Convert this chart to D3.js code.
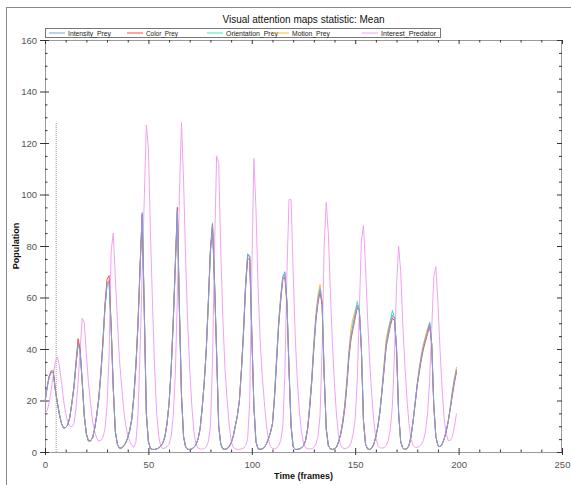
<!DOCTYPE html>
<html><head><meta charset="utf-8">
<script src="https://cdn.jsdelivr.net/npm/d3@7"></script>
<style>
body{margin:0;background:#fff}
svg{display:block}
text{font-family:"Liberation Sans",Arial,sans-serif}
</style>
</head><body>
<svg id="chart" width="571" height="485"></svg>
<script>
// ---------- DATA ----------
const title = "Visual attention maps statistic: Mean";
const xLabel = "Time (frames)";
const yLabel = "Population";
const seriesNames = ["Intensity_Prey","Color_Prey","Orientation_Prey","Motion_Prey","Interest_Predator"];
const seriesColors = ["#7f9ff0","#ff4a4a","#3ee8a8","#ffb83a","#f2a2f2"];
const xMajorTicks = [0,50,100,150,200,250];
const xMinorTicks = [10,20,30,40,60,70,80,90,110,120,130,140,160,170,180,190,210,220,230,240];
const yMajorTicks = [0,20,40,60,80,100,120,140,160];
const yMinorTicks = [5,10,15,25,30,35,45,50,55,65,70,75,85,90,95,105,110,115,125,130,135,145,150,155];
const markerFrame = 5.4;     // dotted vertical marker
const markerTop = 128;

const intensityPrey = [
19.5,25,29,31,30.8,24,19,14.5,11,9.3, 9.5,10.5,13.5,19,25,34,42,39,27,14,
7,4.3,4.3,5.5,9,14,20.5,30,42,56, 65,66,48,25,8,3,1.5,1.5,2.3,3.5,
5.5,8.5,13,22,34,50,72,93,55,15, 4,1.3,1,1,1.2,1.6,2.3,3.5,6,11,
19,32,50,72,94,55,22,6,2,1, 1,1.2,1.8,2.8,5,9,17,27,40,58,
78,88,65,38,10,3,1.2,1,1.3,2, 3.5,6,10,14,20,32,47,65,77,76,
46,18,4,1.3,1,1.2,1.8,3,5,7.5, 11,22,36,50,60,68,70,58,32,10,
2,1,1,1.2,1.6,2.5,4.5,9,18,28, 41,52,59,63,58,30,9,2.5,1.2,1,
1.2,2,4,7,12,18,27,38,45,49, 53,57,55,40,12,3,1.2,1,1.5,3,
6,10,16,24,33,42,46,50,53,52, 40,15,4,1.5,1,1.3,2.5,6,12,19,
26,32,37,41,44,47,50,42,18,6, 2.5,2,3,5,8,12,17,23,28,32];

const colorPrey = [
19.5,25,29.5,31.5,31.5,24.5,19,14.5,11,9.3, 9.5,10.5,13.5,19,25.5,35,44,40,27.5,14,
7,4.3,4.3,5.5,9,14.5,21,31,43,57.5, 67,68.5,49,25,8,3,1.5,1.5,2.3,3.5,
5.5,8.5,13,22,34,51,73,92,56,15, 4,1.3,1,1,1.2,1.6,2.3,3.5,6,11,
19,32,51,73,95,56,22,6,2,1, 1,1.2,1.8,2.8,5,9,17,27,40,59,
79,88.5,65,38,10,3,1.2,1,1.3,2, 3.5,6,10,14,20,32,46,64,75,75,
46,18,4,1.3,1,1.2,1.8,3,5,7.5, 11,21,35,49,59,67,68,57,32,10,
2,1,1,1.2,1.6,2.5,4.5,9,17,27, 40,51,58,62,57,30,9,2.5,1.2,1,
1.2,2,4,7,11,17,26,37,44,48, 52,56,55,40,12,3,1.2,1,1.5,3,
6,10,16,24,32,41,45,49,52,51, 40,15,4,1.5,1,1.3,2.5,6,12,19,
26,31,36,40,43,46,49,42,18,6, 2.5,2,3,5,8,12,17,22,27,31];

const orientationPrey = [
19.5,25,29,31,30.8,24,19,14.5,11,9.3, 9.5,10.5,13.5,19,25,34,42.5,39,27,14,
7,4.3,4.3,5.5,9,14,20.5,30,42,56, 65.5,66.5,48,25,8,3,1.5,1.5,2.3,3.5,
5.5,8.5,13,22,34,50,72,92.5,55,15, 4,1.3,1,1,1.2,1.6,2.3,3.5,6,11,
19,32,50,72,93.5,55,22,6,2,1, 1,1.2,1.8,2.8,5,9,17,27,40,58,
78,89,66,38,10,3,1.2,1,1.3,2, 3.5,6,10,14,20,32,47,65,76.5,76,
46,18,4,1.3,1,1.2,1.8,3,5,7.5, 11,22,36,50,60,68,69.5,58,32,10,
2,1,1,1.2,1.6,2.5,4.5,9,18,28, 41,52,59,63.5,58,30,9,2.5,1.2,1,
1.2,2,4,7,12,18,27,38,45,50, 54,58.5,55,40,12,3,1.2,1,1.5,3,
6,10,16,24,33,42,47,51,55,52, 40,15,4,1.5,1,1.3,2.5,6,12,19,
26,32,37,41,44,47,50.5,42,18,6, 2.5,2,3,5,8,12,17,23,28,32];

const motionPrey = [
19.5,25,29,31,30.8,24,19,14.5,11,9.3, 9.5,10.5,13.5,19,25,34,42,39,27,14,
7,4.3,4.3,5.5,9,14,20.5,30,42,56, 65,66,48,25,8,3,1.5,1.5,2.3,3.5,
5.5,8.5,13,22,34,50,72,92,55,15, 4,1.3,1,1,1.2,1.6,2.3,3.5,6,11,
19,32,50,72,93,55,22,6,2,1, 1,1.2,1.8,2.8,5,9,17,27,40,58,
78,87.5,65,38,10,3,1.2,1,1.3,2, 3.5,6,10,14,20,32,47,65,76,76,
46,18,4,1.3,1,1.2,1.8,3,5,7.5, 11,22,37,51,61,68,69,58,32,10,
2,1,1,1.2,1.6,2.5,4.5,9,18,29, 43,54,61,65,58,30,9,2.5,1.2,1,
1.2,2,4,7,12,19,29,40,48,52, 55,57,55,40,12,3,1.2,1,1.5,3,
6,10,16,25,35,44,48,51,53,52, 40,15,4,1.5,1,1.3,2.5,6,12,19,
27,33,38,42,45,48,50,42,18,6, 2.5,2,3,5,8,12,18,24,29,33];

const interestPredator = [
15,16,19,24,30,35,37,33,27,20, 15,11.5,10,9.8,11,17,27,40,52,50,
38,27,19,12,8,5.5,4.2,4.5,5.5,9, 18,38,78,85,68,51,36,26,17,10.5,
6.5,4,2.5,1.8,4,15,40,70,98,127, 118,85,57,33,15,6,2,1.3,1.5,2,
3,6,14,30,60,100,128,106,75,50, 32,18,8,3,1.5,1.2,1.1,1.3,2,4,
10,35,80,115,112,78,52,33,21,11, 4.5,1.8,1.2,1,1,1.2,1.5,2.5,5,20,
70,114,95,65,44,30,20,11,5,2, 1.4,1.3,1.5,2.5,4.5,10,30,70,98,98,
70,45,28,16,8,3.5,1.6,1.3,1.2,1.3, 1.7,3,6,14,40,80,97,85,62,42,
26,14,6,2.5,1.5,1.3,1.5,2,3.5,7, 13,28,55,82,88,72,52,35,22,12,
5.5,2.5,1.6,1.5,1.7,2.5,4.5,9,18,38, 65,80,70,50,34,21,11,5,2.5,1.8,
1.8,2.2,3,4.5,8,15,28,48,68,72, 58,40,25,13,7,4.5,4.5,6,10,15];

const frames = intensityPrey.map((_, i) => i);

// ---------- LAYOUT ----------
const svg = d3.select("#chart");
const L = 45, R = 562, T = 40, B = 452;
const x = d3.scaleLinear().domain([0, 250]).range([L, R]);
const y = d3.scaleLinear().domain([0, 160]).range([B, T]);

// outer frame
svg.append("rect").attr("x", 6.5).attr("y", 7.5).attr("width", 600).attr("height", 600)
  .attr("fill", "none").attr("stroke", "#8a8a8a").attr("stroke-width", 1);

// title
svg.append("text").attr("x", (L + R) / 2).attr("y", 23).attr("text-anchor", "middle")
  .attr("font-size", "10px").attr("fill", "#111").text(title);

// plot box
svg.append("rect").attr("x", L + 0.5).attr("y", T + 0.5).attr("width", R - L - 1).attr("height", B - T)
  .attr("fill", "none").attr("stroke", "#9a9a9a").attr("stroke-width", 1);

function styleAxis(g, labels) {
  g.select(".domain").remove();
  g.selectAll(".tick line").attr("stroke", "#333");
  g.selectAll(".tick text").attr("fill", labels ? "#555" : "none")
    .attr("font-size", "9.5px").attr("font-family", "Liberation Sans, Arial, sans-serif");
}
// left axis
svg.append("g").attr("transform", `translate(${L},0)`)
  .call(d3.axisLeft(y).tickValues(yMajorTicks).tickSize(5).tickPadding(3).tickFormat(d3.format("d")))
  .call(g => styleAxis(g, true));
svg.append("g").attr("transform", `translate(${L},0)`)
  .call(d3.axisRight(y).tickValues(yMajorTicks).tickSize(4).tickFormat(""))
  .call(g => styleAxis(g, false));
svg.append("g").attr("transform", `translate(${L},0)`)
  .call(d3.axisRight(y).tickValues(yMinorTicks).tickSize(2.5).tickFormat(""))
  .call(g => styleAxis(g, false));
// right axis (inward ticks)
svg.append("g").attr("transform", `translate(${R},0)`)
  .call(d3.axisLeft(y).tickValues(yMajorTicks).tickSize(5).tickFormat(""))
  .call(g => styleAxis(g, false));
svg.append("g").attr("transform", `translate(${R},0)`)
  .call(d3.axisLeft(y).tickValues(yMinorTicks).tickSize(3).tickFormat(""))
  .call(g => styleAxis(g, false));
// bottom axis
svg.append("g").attr("transform", `translate(0,${B})`)
  .call(d3.axisBottom(x).tickValues(xMajorTicks).tickSize(3).tickPadding(6).tickFormat(d3.format("d")))
  .call(g => styleAxis(g, true));
svg.append("g").attr("transform", `translate(0,${B})`)
  .call(d3.axisTop(x).tickValues(xMajorTicks).tickSize(4).tickFormat(""))
  .call(g => styleAxis(g, false));
svg.append("g").attr("transform", `translate(0,${B})`)
  .call(d3.axisTop(x).tickValues(xMinorTicks).tickSize(2.5).tickFormat(""))
  .call(g => styleAxis(g, false));
// top axis (inward ticks)
svg.append("g").attr("transform", `translate(0,${T})`)
  .call(d3.axisBottom(x).tickValues(xMajorTicks).tickSize(4).tickFormat(""))
  .call(g => styleAxis(g, false));
svg.append("g").attr("transform", `translate(0,${T})`)
  .call(d3.axisBottom(x).tickValues(xMinorTicks).tickSize(2.5).tickFormat(""))
  .call(g => styleAxis(g, false));

// axis titles
svg.append("text").attr("x", (L + R) / 2).attr("y", 479).attr("text-anchor", "middle")
  .attr("font-size", "9px").attr("font-weight", "bold").attr("fill", "#111").text(xLabel);
svg.append("text").attr("transform", `translate(19,${(T + B) / 2}) rotate(-90)`).attr("text-anchor", "middle")
  .attr("font-size", "9px").attr("font-weight", "bold").attr("fill", "#111").text(yLabel);

// marker line
svg.append("line").attr("x1", x(markerFrame)).attr("x2", x(markerFrame))
  .attr("y1", y(0)).attr("y2", y(markerTop))
  .attr("stroke", "#999").attr("stroke-width", 1).attr("stroke-dasharray", "1,1");

// series
const allSeries = [intensityPrey, colorPrey, orientationPrey, motionPrey, interestPredator];
const line = d3.line().x((d, i) => x(frames[i])).y(d => y(d));
const drawOrder = [4, 3, 2, 1, 0];
const plot = svg.append("g");
drawOrder.forEach(k => {
  plot.append("path").datum(allSeries[k]).attr("d", line)
    .attr("fill", "none").attr("stroke", seriesColors[k]).attr("stroke-width", 1)
    .attr("stroke-linejoin", "round");
});

// legend
const lg = svg.append("g");
lg.append("rect").attr("x", 45.5).attr("y", 28.5).attr("width", 395).attr("height", 9)
  .attr("fill", "#fff").attr("stroke", "#777");
const legendX = [49, 127, 207, 273, 362];
const legendTextW = [43, 32, 52, 38, 55];
seriesNames.forEach((name, k) => {
  lg.append("line").attr("x1", legendX[k]).attr("x2", legendX[k] + 16)
    .attr("y1", 33).attr("y2", 33).attr("stroke", seriesColors[k]).attr("stroke-width", 1);
  lg.append("text").attr("x", legendX[k] + 19).attr("y", 36).attr("font-size", "8px")
    .attr("textLength", legendTextW[k]).attr("lengthAdjust", "spacingAndGlyphs")
    .attr("fill", "#222").text(name);
});
</script>
</body></html>
